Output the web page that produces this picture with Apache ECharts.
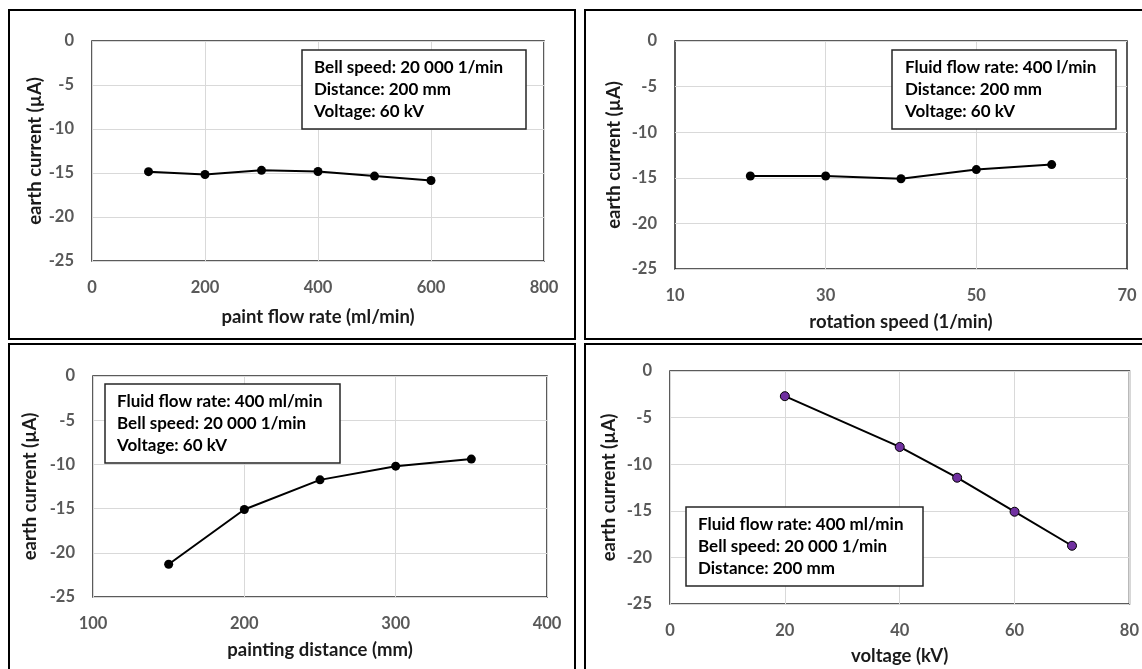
<!DOCTYPE html>
<html><head><meta charset="utf-8">
<script src="https://cdn.jsdelivr.net/npm/echarts/dist/echarts.min.js"></script>
<style>html,body{margin:0;padding:0;background:#fff}#c{width:1142px;height:669px}</style>
</head><body><div id="c"></div>
<script>
// Panel 1: paint flow rate
const flowRate = [100, 200, 300, 400, 500, 600];
const flowCurrent = [-14.85, -15.17, -14.7, -14.83, -15.35, -15.85];
// Panel 2: rotation speed
const rotSpeed = [20, 30, 40, 50, 60];
const rotCurrent = [-14.8, -14.8, -15.1, -14.1, -13.55];
// Panel 3: painting distance
const distance = [150, 200, 250, 300, 350];
const distCurrent = [-21.3, -15.1, -11.75, -10.2, -9.4];
// Panel 4: voltage
const voltage = [20, 40, 50, 60, 70];
const voltCurrent = [-2.7, -8.15, -11.45, -15.1, -18.75];

// Axis ranges [min, max, interval]
const yRange = [-25, 0, 5];
const xRange1 = [0, 800, 200];
const xRange2 = [10, 70, 10];
const xGrid2 = [30, 50];
const xLabels2 = [10, 30, 50, 70];
const xRange3 = [100, 400, 100];
const xRange4 = [0, 80, 20];

const xNames = ['paint flow rate (ml/min)', 'rotation speed (1/min)', 'painting distance (mm)', 'voltage (kV)'];
const yName = 'earth current (\u00b5A)';
const notes = [
  ['Bell speed: 20 000 1/min', 'Distance: 200 mm', 'Voltage: 60 kV'],
  ['Fluid flow rate: 400 l/min', 'Distance: 200 mm', 'Voltage: 60 kV'],
  ['Fluid flow rate: 400 ml/min', 'Bell speed: 20 000 1/min', 'Voltage: 60 kV'],
  ['Fluid flow rate: 400 ml/min', 'Bell speed: 20 000 1/min', 'Distance: 200 mm']
];

const FONT = 'Lato';
const gridBoxes = [
  {left: 92, top: 41, width: 452, height: 220},
  {left: 675, top: 41, width: 452, height: 228},
  {left: 93, top: 376, width: 454, height: 221},
  {left: 670, top: 371, width: 461, height: 233}
];
const xGaps = [47, 44, 44, 43];
const yGaps = [45, 51, 53, 51];

const grids = gridBoxes.map(g => Object.assign({show: true, borderColor: '#262626', borderWidth: 1.5, backgroundColor: 'transparent'}, g));

function xAxis(i, r) {
  return {
    type: 'value', gridIndex: i, min: r[0], max: r[1], interval: r[2],
    name: xNames[i], nameLocation: 'middle', nameGap: xGaps[i],
    nameTextStyle: {fontFamily: FONT, fontWeight: 'bold', fontSize: 18.5, color: '#1a1a1a'},
    axisLine: {show: false}, axisTick: {show: false},
    axisLabel: {fontFamily: FONT, fontWeight: 'bold', fontSize: 16.5, color: '#595959', margin: 18},
    splitLine: {show: true, lineStyle: {color: '#d9d9d9', width: 1}}
  };
}
const xAxes = [xAxis(0, xRange1), xAxis(1, xRange2), xAxis(2, xRange3), xAxis(3, xRange4)];
xAxes[1].splitLine = {show: false};
xAxes[1].axisLabel.formatter = v => (xLabels2.indexOf(v) >= 0 ? String(v) : '');

const yAxes = [0, 1, 2, 3].map(i => ({
  type: 'value', gridIndex: i, min: yRange[0], max: yRange[1], interval: yRange[2],
  name: yName, nameLocation: 'middle', nameGap: yGaps[i],
  nameTextStyle: {fontFamily: FONT, fontWeight: 'bold', fontSize: 18.5, color: '#1a1a1a'},
  axisLine: {show: false}, axisTick: {show: false},
  axisLabel: {fontFamily: FONT, fontWeight: 'bold', fontSize: 16.5, color: '#595959', margin: 18},
  splitLine: {show: true, lineStyle: {color: '#d9d9d9', width: 1}}
}));

function pairs(xs, ys) { return xs.map((x, k) => [x, ys[k]]); }
function lineSeries(i, data, purple) {
  return {
    type: 'line', xAxisIndex: i, yAxisIndex: i, data: data,
    symbol: 'circle', symbolSize: 9, showSymbol: true,
    lineStyle: {color: '#000', width: 2},
    itemStyle: purple ? {color: '#7030A0', borderColor: '#000', borderWidth: 1} : {color: '#000'},
    z: 5, animation: false
  };
}
const series = [
  lineSeries(0, pairs(flowRate, flowCurrent)),
  lineSeries(1, pairs(rotSpeed, rotCurrent)),
  lineSeries(2, pairs(distance, distCurrent)),
  lineSeries(3, pairs(voltage, voltCurrent), true)
];
series[1].markLine = {
  silent: true, symbol: 'none', label: {show: false}, z: 1,
  lineStyle: {color: '#d9d9d9', width: 1, type: 'solid'},
  data: xGrid2.map(v => ({xAxis: v}))
};

const frames = [
  {x: 9, y: 10, width: 566, height: 329},
  {x: 585, y: 10, width: 600, height: 329},
  {x: 9, y: 344, width: 566, height: 400},
  {x: 585, y: 344, width: 600, height: 400}
];
const noteBoxes = [
  {x: 302, y: 50, w: 224, h: 79, pad: 12},
  {x: 892, y: 50, w: 224, h: 79, pad: 13},
  {x: 105, y: 384, w: 235, h: 79, pad: 12},
  {x: 686, y: 507, w: 237, h: 79, pad: 12}
];
const graphics = [];
frames.forEach(f => graphics.push({type: 'rect', shape: f, style: {fill: 'none', stroke: '#000', lineWidth: 2}, silent: true, z: 10}));
noteBoxes.forEach((b, i) => {
  graphics.push({type: 'rect', shape: {x: b.x, y: b.y, width: b.w, height: b.h}, style: {fill: '#fff', stroke: '#262626', lineWidth: 1.5}, silent: true, z: 20});
  graphics.push({type: 'text', x: b.x + b.pad, y: b.y + 7, style: {text: notes[i].join('\n'), font: 'bold 17px ' + FONT, lineHeight: 22, fill: '#000', verticalAlign: 'top', align: 'left'}, silent: true, z: 21});
});

const chart = echarts.init(document.getElementById('c'), null, {renderer: 'canvas'});
chart.setOption({
  backgroundColor: '#fff', animation: false,
  grid: grids, xAxis: xAxes, yAxis: yAxes, series: series, graphic: graphics
});
</script></body></html>
